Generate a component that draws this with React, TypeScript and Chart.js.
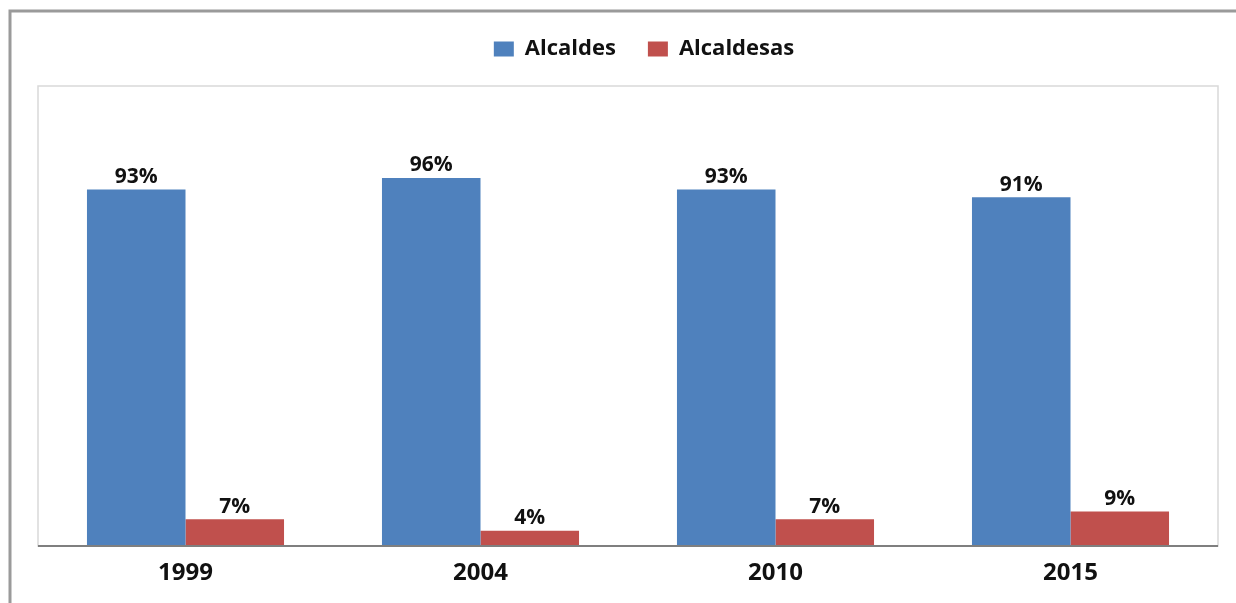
import React, { useEffect, useRef } from "react";
import { Chart, registerables } from "chart.js";

Chart.register(...registerables);

const categories = ["1999", "2004", "2010", "2015"];
const seriesNames = ["Alcaldes", "Alcaldesas"];
const alcaldes = [93, 96, 93, 91];
const alcaldesas = [7, 4, 7, 9];
const seriesColors = ["#4F81BD", "#C0504D"];

const W = 1236;
const H = 603;
const FONT = "'Open Sans', Lato, sans-serif";

const framePlugin = {
  id: "frame",
  beforeDraw(chart: any) {
    const ctx = chart.ctx;
    ctx.save();
    ctx.fillStyle = "#ffffff";
    ctx.fillRect(0, 0, chart.width, chart.height);
    ctx.strokeStyle = "#9a9a9a";
    ctx.lineWidth = 3;
    ctx.beginPath();
    ctx.moveTo(10, chart.height);
    ctx.lineTo(10, 11);
    ctx.lineTo(chart.width, 11);
    ctx.stroke();
    ctx.restore();
  },
  beforeDatasetsDraw(chart: any) {
    const { ctx, chartArea } = chart;
    ctx.save();
    ctx.strokeStyle = "#d9d9d9";
    ctx.lineWidth = 1.5;
    ctx.strokeRect(chartArea.left, chartArea.top, chartArea.right - chartArea.left, chartArea.bottom - chartArea.top);
    ctx.restore();
  },
  afterDatasetsDraw(chart: any) {
    const { ctx, chartArea } = chart;
    ctx.save();
    ctx.strokeStyle = "#7f7f7f";
    ctx.lineWidth = 2;
    ctx.beginPath();
    ctx.moveTo(chartArea.left, chartArea.bottom);
    ctx.lineTo(chartArea.right, chartArea.bottom);
    ctx.stroke();
    // data labels
    ctx.fillStyle = "#111111";
    ctx.font = "bold 21px " + FONT;
    ctx.textAlign = "center";
    ctx.textBaseline = "bottom";
    chart.data.datasets.forEach((ds: any, di: number) => {
      const meta = chart.getDatasetMeta(di);
      meta.data.forEach((el: any, i: number) => {
        ctx.fillText(ds.data[i] + "%", el.x, el.y - 2);
      });
    });
    ctx.restore();
  },
};

const legendMarginPlugin = {
  id: "legendMargin",
  beforeInit(chart: any) {
    const legend = chart.legend;
    if (!legend) return;
    const origFit = legend.fit;
    legend.fit = function () {
      origFit.call(this);
      this.height += 16;
    };
    const origDraw = legend.draw;
    legend.draw = function () {
      this.left += 16;
      this.right += 16;
      origDraw.call(this);
      this.left -= 16;
      this.right -= 16;
    };
  },
};

export default function App() {
  const ref = useRef<HTMLCanvasElement>(null);
  useEffect(() => {
    document.body.style.margin = "0";
    const chart = new Chart(ref.current as HTMLCanvasElement, {
      type: "bar",
      data: {
        labels: categories,
        datasets: [
          { label: seriesNames[0], data: alcaldes, backgroundColor: seriesColors[0], borderWidth: 0 },
          { label: seriesNames[1], data: alcaldesas, backgroundColor: seriesColors[1], borderWidth: 0 },
        ],
      },
      options: {
        responsive: false,
        animation: false,
        layout: { padding: { left: 38, right: 18, top: 6, bottom: 0 } },
        datasets: { bar: { categoryPercentage: 0.668, barPercentage: 1.0 } },
        scales: {
          x: {
            grid: { display: false, drawTicks: false },
            border: { display: false },
            ticks: { color: "#111111", font: { family: FONT, size: 24, weight: "bold" }, padding: 13 },
            afterFit(scale: any) {
              scale.height = 57;
            },
          },
          y: { display: false, min: 0, max: 120 },
        },
        plugins: {
          legend: {
            position: "top",
            labels: {
              color: "#111111",
              font: { family: FONT, size: 22, weight: "bold" },
              boxWidth: 20,
              boxHeight: 15,
              padding: 32,
            },
          },
          tooltip: { enabled: false },
        },
      },
      plugins: [framePlugin, legendMarginPlugin],
    } as any);
    return () => chart.destroy();
  }, []);
  return (
    <div style={{ position: "fixed", left: 0, top: 0, width: W, height: H, background: "#fff" }}>
      <canvas ref={ref} width={W} height={H} />
    </div>
  );
}
